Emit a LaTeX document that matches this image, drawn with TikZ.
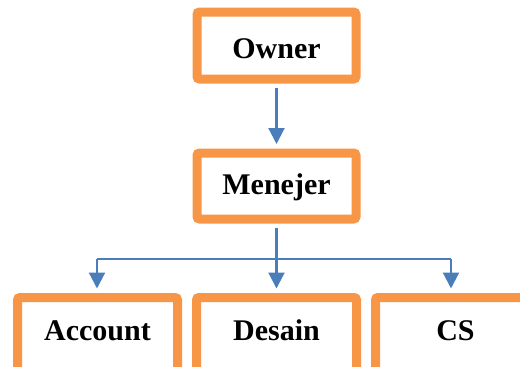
\documentclass[tikz,border=0pt]{standalone}
\usepackage{fontspec}
\setmainfont{Liberation Serif}
\usetikzlibrary{arrows.meta,calc}
\definecolor{boxorange}{HTML}{F79646}
\definecolor{linkblue}{HTML}{4A7EBB}
\tikzset{
  orgbox/.style={draw=boxorange, line width=9pt, fill=white, rounded corners=2.5pt,
    inner sep=0pt, minimum width=160pt, anchor=base, align=center,
    font=\fontsize{30}{36}\selectfont\bfseries},
  link/.style={draw=linkblue, line width=2.2pt, -{Triangle[width'=0pt 1.1, length=16pt 0 0, width=16pt 0 0]}},
  plainlink/.style={draw=linkblue, line width=2.2pt}
}
\begin{document}
\begin{tikzpicture}[x=1pt,y=1pt]
\useasboundingbox (0,0) rectangle (520,-367);
\clip (0,0) rectangle (520,-367);
\node[orgbox, text height=46pt, text depth=21pt, minimum width=159pt] (owner) at (276.5,-58) {Owner};
\node[orgbox, text height=41pt, text depth=25pt, minimum width=159pt] (men) at (276.5,-194) {Menejer};
\node[orgbox, text height=42.5pt, text depth=40pt] (acc) at (97.5,-340) {Account};
\node[orgbox, text height=42.5pt, text depth=40pt] (des) at (276.5,-340) {Desain};
\node[orgbox, text height=42.5pt, text depth=40pt] (cs) at (455.5,-340) {CS};
\coordinate (hub) at (276.5,-259);
\coordinate (accx) at (97,-259);
\coordinate (csx) at (451,-259);
\draw[link, shorten <=4.5pt, shorten >=4.5pt] (owner.south) -- (men.north);
\draw[plainlink, shorten <=4.5pt] (men.south) -- (hub);
\draw[plainlink] (accx) -- (csx);
\draw[link, shorten >=4.5pt] (hub) -- (des.north);
\draw[link, shorten >=4.5pt] (accx) -- (accx |- acc.north);
\draw[link, shorten >=4.5pt] (csx) -- (csx |- cs.north);
\end{tikzpicture}
\end{document}
